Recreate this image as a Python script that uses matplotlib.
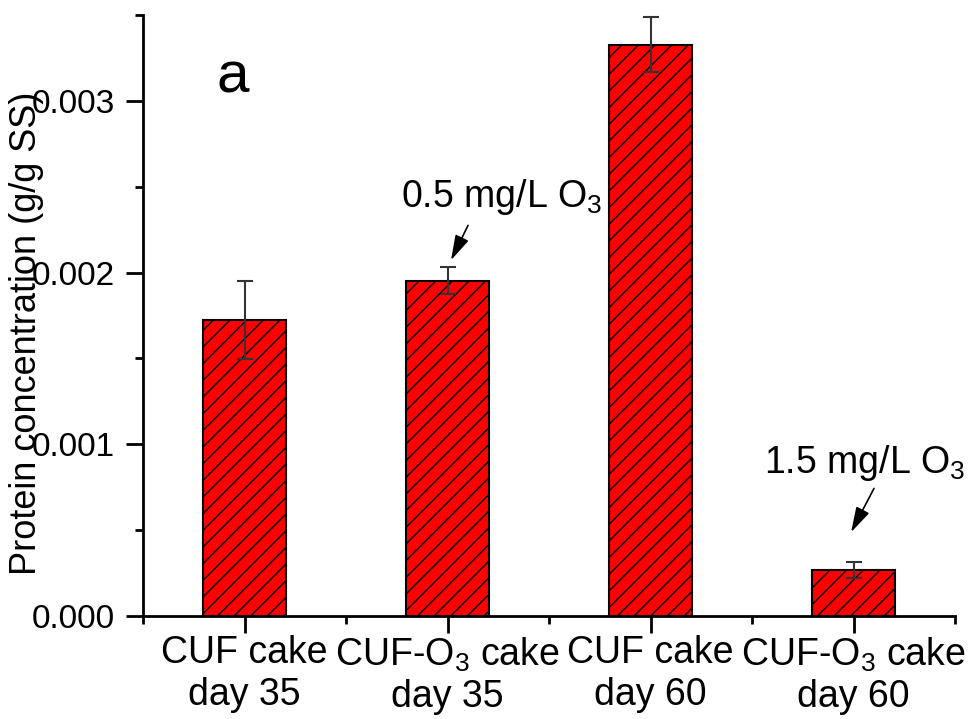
import numpy as np
import matplotlib
matplotlib.use("Agg")
import matplotlib.pyplot as plt

plt.rcParams['font.family'] = ['Liberation Sans', 'DejaVu Sans']
plt.rcParams['mathtext.fontset'] = 'custom'
plt.rcParams['mathtext.rm'] = 'Liberation Sans'
plt.rcParams['mathtext.default'] = 'regular'
plt.rcParams['hatch.linewidth'] = 1.0

# protein content of the cake layers
labels = ['CUF cake\nday 35', 'CUF-O$_3$ cake\nday 35', 'CUF cake\nday 60', 'CUF-O$_3$ cake\nday 60']
protein = [0.001724, 0.001954, 0.003327, 0.000267]
protein_err = [0.000227, 0.000080, 0.000160, 0.000048]

fig = plt.figure(figsize=(9.75, 7.19), dpi=100)
ax = fig.add_axes([0.1467, 0.1433, 0.8328, 0.8357])

x = np.arange(1, len(protein) + 1)
ax.bar(x, protein, width=0.405, color='#ff0000', edgecolor='black',
       linewidth=1.5, hatch='//', zorder=2)
ax.errorbar(x, protein, yerr=protein_err, fmt='none', ecolor='#333333',
            elinewidth=1.5, capsize=6, capthick=1.5, zorder=3)

ax.set_xlim(0.5, 4.5)
ax.set_ylim(0, 0.0035)
ax.set_xticks(x)
ax.set_xticks(np.arange(0.5, 4.6, 1.0), minor=True)
ax.set_xticklabels(labels, fontsize=27)
ax.set_yticks([0, 0.001, 0.002, 0.003])
ax.set_yticks(np.arange(0.0005, 0.0036, 0.001), minor=True)
ax.set_yticklabels(['0.000', '0.001', '0.002', '0.003'], fontsize=24)

for s in ['top', 'right']:
    ax.spines[s].set_visible(False)
for s in ['left', 'bottom']:
    ax.spines[s].set_linewidth(2)
ax.tick_params(which='major', length=12, width=2, direction='out')
ax.tick_params(which='minor', length=6, width=2, direction='out')
ax.tick_params(axis='x', which='major', pad=2)
ax.tick_params(axis='y', which='major', pad=8)

ax.set_ylabel('Protein concentration (g/g SS)', fontsize=26)
ax.yaxis.set_label_coords(-0.1225, 0.471)

ax.text(0.11, 0.872, 'a', transform=ax.transAxes, fontsize=42,
        ha='center', va='baseline')

arrow = dict(arrowstyle='-|>,head_length=0.7,head_width=0.2', color='black',
             lw=1.2, mutation_scale=22, shrinkA=0, shrinkB=0)
ax.annotate('', xy=(2.017, 0.002072), xytext=(2.101, 0.002275), arrowprops=arrow)
ax.text(2.268, 0.002385, '0.5 mg/L O$_3$', fontsize=27, ha='center', va='baseline')
ax.annotate('', xy=(3.988, 0.000488), xytext=(4.101, 0.000743), arrowprops=arrow)
ax.text(4.057, 0.00083, '1.5 mg/L O$_3$', fontsize=27, ha='center', va='baseline',
        clip_on=False)

fig.savefig('out.png', dpi=100)
